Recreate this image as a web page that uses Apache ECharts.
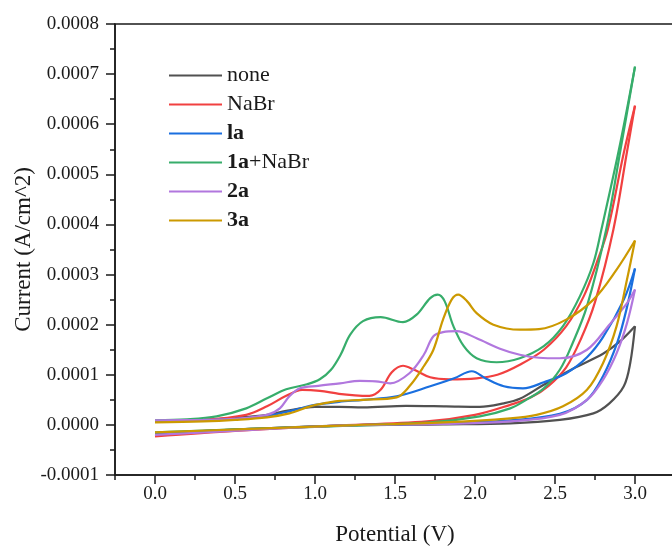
<!DOCTYPE html>
<html>
<head>
<meta charset="utf-8">
<script src="https://cdn.jsdelivr.net/npm/echarts@6/dist/echarts.min.js"></script>
<style>
html,body{margin:0;padding:0;background:#fff;}
#cv{width:672px;height:548px;}
</style>
</head>
<body>
<div id="cv"></div>
<script>

// current values in units of 1e-4 A/cm^2, [potential V, current]
const UNIT = 1e-4;

const names = ["none", "NaBr", "la", "1a+NaBr", "2a", "3a"];
const colors = ["#515151", "#F14040", "#1A6FDF", "#37AD6B", "#B177DE", "#CC9900"];

// forward scans (0 -> 3 V)
const noneFwd = [[0,0.07],[0.3,0.1],[0.5,0.14],[0.7,0.2],[0.82,0.28],[1.0,0.36],[1.15,0.36],[1.3,0.35],[1.57,0.38],[1.82,0.37],[2.03,0.36],[2.18,0.43],[2.28,0.52],[2.43,0.8],[2.63,1.15],[2.8,1.42],[2.9,1.65],[3.0,1.97]];
const nabrFwd = [[0,0.08],[0.3,0.1],[0.57,0.2],[0.7,0.37],[0.82,0.58],[0.92,0.7],[1.03,0.68],[1.15,0.62],[1.25,0.59],[1.34,0.58],[1.41,0.7],[1.48,1.05],[1.55,1.18],[1.62,1.1],[1.72,0.95],[1.84,0.91],[2.01,0.93],[2.14,1.0],[2.28,1.2],[2.43,1.5],[2.57,1.97],[2.68,2.57],[2.76,3.23],[2.83,3.9],[2.93,5.43],[3.0,6.37]];
const laFwd = [[0,0.07],[0.3,0.09],[0.5,0.12],[0.7,0.18],[0.85,0.28],[1.0,0.4],[1.15,0.46],[1.3,0.5],[1.51,0.57],[1.72,0.77],[1.87,0.93],[1.98,1.07],[2.07,0.92],[2.18,0.77],[2.3,0.73],[2.43,0.85],[2.57,1.03],[2.7,1.35],[2.8,1.75],[2.93,2.5],[3.0,3.12]];
const laNabrFwd = [[0,0.09],[0.2,0.11],[0.385,0.17],[0.57,0.33],[0.7,0.53],[0.82,0.71],[0.95,0.81],[1.03,0.91],[1.1,1.1],[1.16,1.4],[1.22,1.8],[1.3,2.07],[1.41,2.15],[1.55,2.05],[1.635,2.2],[1.72,2.53],[1.767,2.6],[1.81,2.47],[1.865,1.97],[1.93,1.57],[2.01,1.33],[2.135,1.25],[2.28,1.33],[2.43,1.57],[2.55,1.97],[2.656,2.57],[2.74,3.23],[2.79,3.9],[2.9,5.5],[3.0,7.15]];
const twoaFwd = [[0,0.09],[0.3,0.1],[0.5,0.12],[0.7,0.2],[0.78,0.33],[0.84,0.57],[0.906,0.73],[1.02,0.78],[1.156,0.83],[1.28,0.88],[1.38,0.87],[1.47,0.83],[1.59,1.03],[1.68,1.4],[1.74,1.77],[1.8,1.85],[1.885,1.87],[2.01,1.73],[2.156,1.52],[2.28,1.4],[2.4,1.34],[2.53,1.33],[2.7,1.5],[2.84,2.0],[2.95,2.43],[3.0,2.7]];
const threeaFwd = [[0,0.05],[0.3,0.07],[0.5,0.1],[0.7,0.15],[0.84,0.23],[0.97,0.37],[1.09,0.45],[1.156,0.48],[1.3,0.5],[1.51,0.55],[1.59,0.77],[1.68,1.17],[1.74,1.5],[1.8,2.1],[1.854,2.5],[1.895,2.6],[1.95,2.47],[2.01,2.23],[2.115,2.0],[2.28,1.9],[2.4,1.91],[2.57,2.1],[2.74,2.5],[2.885,3.1],[3.0,3.68]];

// reverse scans (3 -> 0 V)
const noneRev = [[3.0,1.97],[2.97,1.23],[2.93,0.77],[2.84,0.43],[2.74,0.23],[2.53,0.1],[2.22,0.03],[1.8,0.01],[1.2,-0.01],[0.6,-0.08],[0,-0.17]];
const nabrRev = [[3.0,6.37],[2.95,5.45],[2.865,3.9],[2.75,2.45],[2.66,1.7],[2.57,1.15],[2.46,0.78],[2.35,0.55],[2.22,0.4],[2.0,0.2],[1.7,0.07],[1.1,-0.02],[0.5,-0.12],[0,-0.23]];
const laRev = [[3.0,3.12],[2.95,2.35],[2.89,1.65],[2.8,0.97],[2.7,0.5],[2.53,0.22],[2.22,0.09],[1.8,0.03],[1.2,-0.01],[0.6,-0.08],[0,-0.17]];
const laNabrRev = [[3.0,7.15],[2.91,5.5],[2.82,3.9],[2.7,2.37],[2.61,1.63],[2.53,1.1],[2.43,0.73],[2.32,0.5],[2.22,0.33],[2.03,0.17],[1.72,0.05],[1.1,-0.03],[0.5,-0.09],[0,-0.15]];
const twoaRev = [[3.0,2.7],[2.95,2.03],[2.885,1.43],[2.8,0.9],[2.7,0.5],[2.53,0.2],[2.22,0.07],[1.8,0.02],[1.2,-0.01],[0.6,-0.1],[0,-0.2]];
const threeaRev = [[3.0,3.68],[2.95,2.9],[2.885,1.97],[2.8,1.23],[2.7,0.7],[2.55,0.37],[2.385,0.2],[2.22,0.13],[1.8,0.05],[1.2,-0.01],[0.6,-0.08],[0,-0.15]];

const xMajor = [0, 0.5, 1.0, 1.5, 2.0, 2.5, 3.0];
const xMinor = [-0.25, 0.25, 0.75, 1.25, 1.75, 2.25, 2.75, 3.25];

const fwd = [noneFwd, nabrFwd, laFwd, laNabrFwd, twoaFwd, threeaFwd];
const rev = [noneRev, nabrRev, laRev, laNabrRev, twoaRev, threeaRev];

const FONT = "Liberation Serif, Times New Roman, serif";
const INK = "#1a1a1a";

function branch(name, color, pts){
  return {
    name: name,
    type: "line",
    data: pts.map(p => [p[0], p[1] * UNIT]),
    showSymbol: false,
    smooth: 0.35,
    lineStyle: {color: color, width: 2.2},
    itemStyle: {color: color}
  };
}

let series = [];
names.forEach((n, i) => {
  series.push(branch(n, colors[i], fwd[i]));
  series.push(branch(n, colors[i], rev[i]));
});

const chart = echarts.init(document.getElementById("cv"));

chart.setOption({
  animation: false,
  backgroundColor: "#fff",
  grid: {
    left: 115, right: -3, top: 24, bottom: 73,
    outerBoundsMode: "none",
    show: true, borderColor: INK, borderWidth: 1.5
  },
  legend: {
    data: names,
    orient: "vertical",
    left: 164, top: 59,
    icon: "rect",
    itemWidth: 53, itemHeight: 2,
    itemGap: 6,
    textStyle: {
      fontFamily: FONT, fontSize: 22, color: INK, lineHeight: 23,
      rich: {b: {fontFamily: FONT, fontSize: 22, fontWeight: "bold", color: INK}}
    },
    formatter: function(name){
      if(name === "1a+NaBr") return "{b|1a}+NaBr";
      if(name === "la" || name === "2a" || name === "3a") return "{b|" + name + "}";
      return name;
    }
  },
  xAxis: [{
    type: "value",
    min: -0.25, max: 3.25,
    name: "Potential (V)",
    nameLocation: "middle",
    nameGap: 48,
    nameMoveOverlap: false,
    nameTextStyle: {fontFamily: FONT, fontSize: 23, color: INK},
    splitLine: {show: false},
    axisLine: {onZero: false, lineStyle: {color: INK, width: 1.5}},
    axisTick: {length: 9, lineStyle: {color: INK, width: 1.5}, customValues: xMajor},
    axisLabel: {
      fontFamily: FONT, fontSize: 19, color: INK, margin: 10,
      customValues: xMajor,
      formatter: v => v.toFixed(1)
    }
  }, {
    type: "value",
    position: "bottom",
    min: -0.25, max: 3.25,
    splitLine: {show: false},
    axisLine: {show: false, onZero: false},
    axisTick: {length: 5, lineStyle: {color: INK, width: 1.5}, customValues: xMinor},
    axisLabel: {show: false}
  }],
  yAxis: {
    type: "value",
    min: -0.0001, max: 0.0008, interval: 0.0001,
    name: "Current (A/cm^2)",
    nameLocation: "middle",
    nameGap: 80,
    nameMoveOverlap: false,
    nameTextStyle: {fontFamily: FONT, fontSize: 23, color: INK},
    splitLine: {show: false},
    axisLine: {show: true, onZero: false, lineStyle: {color: INK, width: 1.5}},
    axisTick: {length: 9, lineStyle: {color: INK, width: 1.5}},
    minorTick: {show: true, splitNumber: 2, length: 5, lineStyle: {color: INK, width: 1.5}},
    axisLabel: {
      fontFamily: FONT, fontSize: 19, color: INK, margin: 16,
      formatter: v => v.toFixed(4)
    }
  },
  series: series
});

window.addEventListener("resize", () => chart.resize());

</script>
</body>
</html>
